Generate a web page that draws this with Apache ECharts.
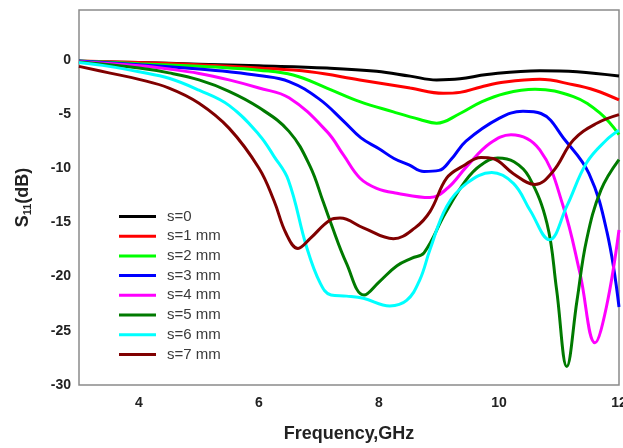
<!DOCTYPE html>
<html>
<head>
<meta charset="utf-8">
<script src="https://cdn.jsdelivr.net/npm/echarts@6/dist/echarts.min.js"></script>
<style>
html,body{margin:0;padding:0;background:#fff;}
#chart{width:623px;height:448px;}
</style>
</head>
<body>
<div id="chart"></div>
<script>
// Series names
var seriesNames = ['s=0', 's=1 mm', 's=2 mm', 's=3 mm', 's=4 mm', 's=5 mm', 's=6 mm', 's=7 mm'];

// Frequency (GHz) and S11 (dB) per series
var s0_f = [3, 4, 5, 6.0, 7.13, 7.96, 8.52, 8.96, 9.35, 9.8, 10.68, 11.3, 12];
var s0_v = [-0.15, -0.25, -0.4, -0.55, -0.75, -1.05, -1.5, -1.85, -1.75, -1.35, -1.0, -1.1, -1.5];

var s1_f = [3, 4, 5, 6.0, 6.85, 7.68, 8.52, 9.07, 9.35, 9.7, 10.1, 10.68, 11.24, 11.6, 12];
var s1_v = [-0.1, -0.25, -0.45, -0.75, -1.1, -1.85, -2.6, -3.08, -3.0, -2.5, -2.05, -1.8, -2.3, -2.8, -3.7];

var s2_f = [3, 4, 5, 5.5, 6.0, 6.57, 7.13, 7.68, 8.24, 8.68, 8.96, 9.35, 9.7, 10.1, 10.6, 11.24, 11.68, 12];
var s2_v = [-0.1, -0.35, -0.6, -0.75, -0.95, -1.4, -2.6, -3.85, -4.8, -5.5, -5.85, -4.95, -3.9, -3.1, -2.72, -3.4, -4.9, -6.9];

var s3_f = [3, 4, 5, 5.5, 6, 6.5, 7, 7.4, 7.7, 8, 8.25, 8.5, 8.75, 9.0, 9.2, 9.45, 10, 10.4, 10.7, 11.1, 11.5, 11.8, 12];
var s3_v = [-0.1, -0.45, -0.85, -1.1, -1.45, -2.0, -3.6, -5.6, -7.2, -8.2, -9.1, -9.7, -10.3, -10.2, -9.2, -7.5, -5.4, -4.75, -4.95, -7.4, -10.5, -15.9, -22.8];

var s4_f = [3, 4, 4.5, 5, 5.5, 6.0, 6.5, 7.13, 7.41, 7.68, 7.96, 8.3, 8.85, 9.15, 9.46, 9.85, 10.2, 10.68, 11.07, 11.35, 11.6, 11.79, 12];
var s4_v = [-0.15, -0.55, -0.85, -1.25, -1.85, -2.6, -3.5, -6.6, -8.8, -10.9, -11.85, -12.3, -12.7, -11.8, -9.85, -7.7, -6.9, -8.3, -13.5, -19.7, -26.1, -22.8, -15.7];

var s5_f = [3, 4, 4.5, 5, 5.5, 6.0, 6.5, 6.85, 7.07, 7.18, 7.46, 7.75, 8.0, 8.3, 8.55, 8.75, 9.1, 9.45, 9.7, 9.98, 10.25, 10.5, 10.8, 10.96, 11.13, 11.3, 11.46, 11.7, 12];
var s5_v = [-0.2, -0.75, -1.2, -1.85, -2.9, -4.4, -6.6, -9.8, -13.1, -14.8, -18.8, -21.7, -20.5, -19.0, -18.3, -17.8, -14.2, -11.1, -9.7, -9.05, -9.4, -10.8, -15.1, -21.2, -28.3, -22.2, -16.6, -12.0, -9.2];

var s6_f = [3, 3.5, 4, 4.5, 5, 5.5, 6.0, 6.25, 6.49, 6.79, 7.02, 7.2, 7.46, 7.74, 8.18, 8.46, 8.68, 8.85, 9.13, 9.46, 9.88, 10.24, 10.52, 10.84, 11.13, 11.46, 11.79, 12];
var s6_v = [-0.25, -0.6, -1.1, -1.7, -2.8, -4.2, -6.9, -8.9, -11.1, -17.2, -20.6, -21.7, -21.8, -22.0, -22.7, -22.2, -20.3, -17.5, -13.5, -11.4, -10.4, -11.4, -13.9, -16.6, -13.5, -9.5, -7.4, -6.5];

var s7_f = [3, 3.5, 4, 4.5, 5, 5.5, 6.0, 6.25, 6.45, 6.65, 6.85, 7.18, 7.35, 7.74, 8.24, 8.6, 8.85, 9.13, 9.4, 9.7, 9.9, 10.24, 10.6, 10.9, 11.24, 11.63, 12];
var s7_v = [-0.6, -1.2, -1.8, -2.6, -4.0, -6.3, -10.0, -13.0, -16.0, -17.4, -16.5, -14.8, -14.6, -15.5, -16.5, -15.5, -14.0, -10.9, -9.8, -9.0, -9.1, -10.5, -11.5, -10.3, -7.4, -5.85, -5.05];

var seriesF = [s0_f, s1_f, s2_f, s3_f, s4_f, s5_f, s6_f, s7_f];
var seriesV = [s0_v, s1_v, s2_v, s3_v, s4_v, s5_v, s6_v, s7_v];
var seriesColors = ['#000000', '#ff0000', '#00ff00', '#0000ff', '#ff00ff', '#007a00', '#00ffff', '#800000'];

// Axis ticks
var xTickLabels = [4, 6, 8, 10, 12];
var yTickLabels = [-30, -25, -20, -15, -10, -5, 0];

var FONT = '"Liberation Sans", Arial, Helvetica, sans-serif';

function zip(f, v) {
  var out = [];
  for (var i = 0; i < f.length; i++) out.push([f[i], v[i]]);
  return out;
}

var series = seriesNames.map(function (name, i) {
  return {
    name: name,
    type: 'line',
    data: zip(seriesF[i], seriesV[i]),
    smooth: 0.4,
    symbol: 'none',
    showSymbol: false,
    lineStyle: { width: 3, color: seriesColors[i] },
    itemStyle: { color: seriesColors[i] },
    clip: true
  };
});

var chart = echarts.init(document.getElementById('chart'), null, { renderer: 'canvas' });
chart.setOption({
  animation: false,
  backgroundColor: '#ffffff',
  grid: {
    left: 79, right: 4, top: 10, bottom: 63,
    outerBoundsMode: 'none',
    containLabel: false,
    show: true, borderColor: '#8a8a8a', borderWidth: 1.5, backgroundColor: 'transparent'
  },
  legend: {
    orient: 'vertical',
    left: 119, top: 209,
    padding: 0,
    itemWidth: 37, itemHeight: 14, itemGap: 4.7,
    icon: 'path://M0,6 L37,6 L37,9 L0,9 Z',
    textStyle: { fontFamily: FONT, fontSize: 15, color: '#3a3a3a', padding: [0, 0, 0, 6] },
    data: seriesNames
  },
  xAxis: {
    type: 'value',
    min: 3, max: 12, interval: 1,
    name: 'Frequency,GHz',
    nameLocation: 'middle',
    nameGap: 40,
    nameTextStyle: { fontFamily: FONT, fontSize: 18, fontWeight: 'bold', color: '#222' },
    axisLine: { show: false },
    axisTick: { show: false },
    splitLine: { show: false },
    axisLabel: {
      margin: 11,
      fontFamily: FONT, fontSize: 14, fontWeight: 'bold', color: '#222',
      formatter: function (v) { return xTickLabels.indexOf(v) >= 0 ? String(v) : ''; }
    }
  },
  yAxis: {
    type: 'value',
    min: -30, max: 4.6, interval: 5,
    name: '{a|S}{b|11}{a|(dB)}',
    nameLocation: 'middle',
    nameGap: 46,
    nameRotate: 90,
    nameTextStyle: {
      fontFamily: FONT, fontSize: 18, fontWeight: 'bold', color: '#222',
      rich: {
        a: { fontFamily: FONT, fontSize: 18, fontWeight: 'bold', color: '#222' },
        b: { fontFamily: FONT, fontSize: 11, fontWeight: 'bold', color: '#222', verticalAlign: 'bottom', padding: [8, 0, 0, 0] }
      }
    },
    axisLine: { show: false },
    axisTick: { show: false },
    splitLine: { show: false },
    axisLabel: {
      margin: 8,
      showMaxLabel: false,
      fontFamily: FONT, fontSize: 14, fontWeight: 'bold', color: '#222',
      formatter: function (v) { return yTickLabels.indexOf(v) >= 0 ? String(v) : ''; }
    }
  },
  series: series
});
</script>
</body>
</html>
